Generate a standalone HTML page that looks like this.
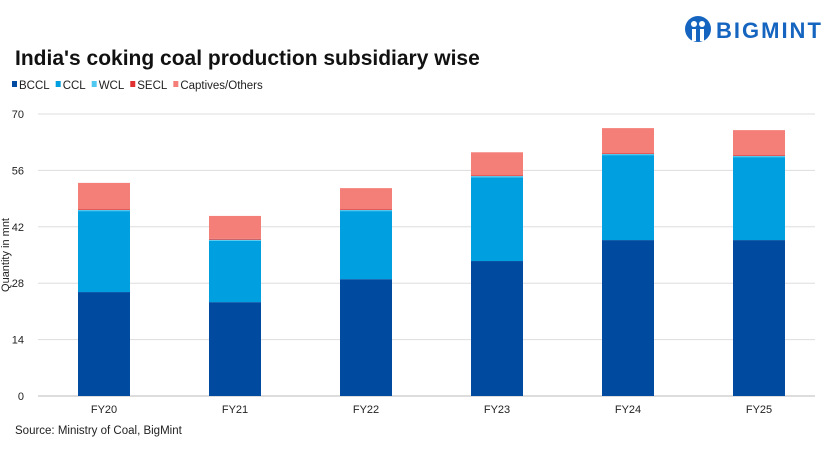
<!DOCTYPE html>
<html><head><meta charset="utf-8"><style>
body{margin:0;background:#fff;font-family:"Liberation Sans",sans-serif}
#wrap{position:relative;width:840px;height:451px;overflow:hidden}
</style></head><body>
<div id="wrap">
<svg id="chart" width="840" height="451">
<g>
<circle cx="698" cy="29" r="13" fill="#1565c0"/>
<circle cx="694" cy="24" r="3" fill="#fff"/><circle cx="702" cy="24" r="3" fill="#fff"/>
<rect x="692" y="29" width="4" height="12" fill="#fff"/><rect x="700" y="29" width="4" height="12" fill="#fff"/>
<text x="716" y="38" font-size="22" font-weight="bold" fill="#1565c0" letter-spacing="2">BIGMINT</text>
</g>
<text x="15" y="65" font-size="21" font-weight="bold" fill="#111">India's coking coal production subsidiary wise</text>
<g id="legend"></g>
<g id="grid"></g><g id="bars"></g><g id="axes"></g>
<text transform="translate(9,255) rotate(-90)" text-anchor="middle" font-size="11" fill="#222">Quantity in mnt</text>
<text x="15" y="434" font-size="11.5" fill="#222">Source: Ministry of Coal, BigMint</text>
</svg>
</div>
<script>
const categories=["FY20","FY21","FY22","FY23","FY24","FY25"];
const seriesNames=["BCCL","CCL","WCL","SECL","Captives/Others"];
const bccl=[25.8,23.3,29.0,33.5,38.7,38.7];
const ccl=[20.1,15.2,16.9,20.8,21.1,20.6];
const wcl=[0.3,0.3,0.3,0.3,0.3,0.3];
const secl=[0.2,0.2,0.2,0.2,0.2,0.2];
const captives=[6.5,5.7,5.2,5.7,6.2,6.2];
const yTicks=[0,14,28,42,56,70];
const colors=["#004aa0","#00a0e0","#50c8f0","#e03030","#f47f78"];
const series=[bccl,ccl,wcl,secl,captives];
const ns="http://www.w3.org/2000/svg";
const x0=38,x1=815,yBase=396,yTop=114,yMax=70;
const y=v=>yBase-(v/yMax)*(yBase-yTop);
const firstC=104,step=131,bw=52;
const xc=i=>firstC+step*i;
function mk(t,a,p){const e=document.createElementNS(ns,t);for(const k in a)e.setAttribute(k,a[k]);p.appendChild(e);return e;}
const grid=document.getElementById('grid'),axes=document.getElementById('axes'),bars=document.getElementById('bars'),leg=document.getElementById('legend');
yTicks.forEach(t=>{
 const l=mk('line',{x1:x0,x2:x1,y1:y(t),y2:y(t),stroke:t===0?'#bbb':'#ddd','stroke-width':1},grid);
 
 
 const tx=mk('text',{x:24,y:y(t)+4,'text-anchor':'end','font-size':11,fill:'#222'},axes);
 tx.textContent=t;
 
 
});
categories.forEach((c,i)=>{
 let acc=0;
 series.forEach((s,j)=>{
  const r=mk('rect',{x:xc(i)-bw/2,y:y(acc+s[i]),width:bw,height:y(acc)-y(acc+s[i]),fill:colors[j]},bars);
  
  
  acc+=s[i];
 });
 const tx=mk('text',{x:xc(i),y:413,'text-anchor':'middle','font-size':11,fill:'#222'},axes);
 tx.textContent=c;
 
 
});
let lx=12;
seriesNames.forEach((n,j)=>{
 const g=mk('g',{},leg);
 
 
 mk('rect',{x:lx,y:81,width:5,height:6,fill:colors[j]},g);
 const t=mk('text',{x:lx+7,y:89,'font-size':11.5,fill:'#222'},g);
 t.textContent=n;
 lx+=7+t.getComputedTextLength()+6;
});
</script>
</body></html>
